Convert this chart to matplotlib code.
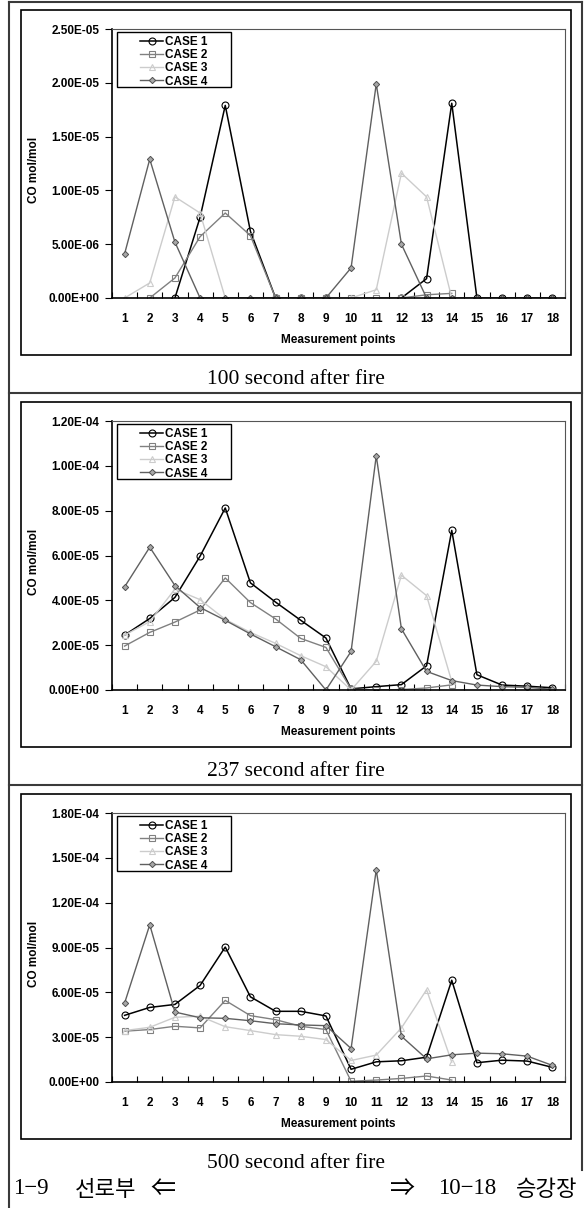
import numpy as np
import matplotlib as mpl
mpl.use('Agg')
import matplotlib.pyplot as plt
from matplotlib.lines import Line2D
from matplotlib.patches import Rectangle
from matplotlib.ticker import FuncFormatter, MultipleLocator

nan = np.nan
points = np.arange(1, 19)
cases = ['CASE 1', 'CASE 2', 'CASE 3', 'CASE 4']
captions = ['100 second after fire', '237 second after fire', '500 second after fire']

# 100 s after fire
t100_case1 = [nan, nan, 0, 7.5e-6, 1.79e-5, 6.2e-6, 0, 0, 0, nan, nan, 0, 1.8e-6, 1.81e-5, 0, 0, 0, 0]
t100_case2 = [nan, 0, 1.86e-6, 5.7e-6, 7.9e-6, 5.8e-6, 0, 0, 0, 0, 0, 0, 3.0e-7, 4.3e-7, nan, nan, nan, nan]
t100_case3 = [0, 1.4e-6, 9.4e-6, 7.9e-6, 0, 0, 0, 0, 0, 0, 7.7e-7, 1.16e-5, 9.4e-6, 0, nan, nan, nan, nan]
t100_case4 = [4.1e-6, 1.29e-5, 5.2e-6, 0, 0, 0, 0, 0, 0, 2.8e-6, 1.99e-5, 5.0e-6, 0, 0, 0, 0, 0, 0]

# 237 s after fire
t237_case1 = [2.45e-5, 3.19e-5, 4.13e-5, 5.97e-5, 8.12e-5, 4.78e-5, 3.92e-5, 3.11e-5, 2.32e-5, 5e-7,
              1.5e-6, 2.4e-6, 1.08e-5, 7.12e-5, 6.8e-6, 2.2e-6, 1.7e-6, 1.0e-6]
t237_case2 = [1.96e-5, 2.57e-5, 3.03e-5, 3.57e-5, 5.0e-5, 3.9e-5, 3.17e-5, 2.3e-5, 1.9e-5, 4e-7,
              0, 2e-7, 9e-7, 2.3e-6, nan, nan, nan, nan]
t237_case3 = [2.45e-5, 3.05e-5, 4.5e-5, 4.03e-5, 3.15e-5, 2.57e-5, 2.08e-5, 1.53e-5, 1.04e-5, 0,
              1.28e-5, 5.12e-5, 4.21e-5, 3.8e-6, nan, nan, nan, nan]
t237_case4 = [4.6e-5, 6.37e-5, 4.66e-5, 3.68e-5, 3.11e-5, 2.5e-5, 1.93e-5, 1.35e-5, 0, 1.72e-5,
              1.045e-4, 2.73e-5, 8.3e-6, 4.2e-6, 2.2e-6, 1.5e-6, 1.2e-6, 3e-7]

# 500 s after fire
t500_case1 = [4.46e-5, 4.99e-5, 5.19e-5, 6.46e-5, 9.03e-5, 5.7e-5, 4.73e-5, 4.73e-5, 4.42e-5, 8.5e-6,
              1.35e-5, 1.42e-5, 1.66e-5, 6.81e-5, 1.29e-5, 1.46e-5, 1.4e-5, 9.8e-6]
t500_case2 = [3.4e-5, 3.51e-5, 3.73e-5, 3.62e-5, 5.46e-5, 4.44e-5, 4.17e-5, 3.73e-5, 3.51e-5, 5e-7,
              1.3e-6, 2.4e-6, 4.0e-6, 1.3e-6, nan, nan, nan, nan]
t500_case3 = [3.44e-5, 3.66e-5, 4.33e-5, 4.4e-5, 3.7e-5, 3.44e-5, 3.17e-5, 3.06e-5, 2.84e-5, 1.44e-5,
              1.8e-5, 3.62e-5, 6.17e-5, 1.33e-5, nan, nan, nan, nan]
t500_case4 = [5.28e-5, 1.052e-4, 4.68e-5, 4.3e-5, 4.26e-5, 4.1e-5, 3.9e-5, 3.82e-5, 3.77e-5, 2.24e-5,
              1.42e-4, 3.06e-5, 1.55e-5, 1.82e-5, 1.93e-5, 1.89e-5, 1.73e-5, 1.11e-5]

panels = [
    ([t100_case1, t100_case2, t100_case3, t100_case4], 2.5e-5, 5e-6),
    ([t237_case1, t237_case2, t237_case3, t237_case4], 1.2e-4, 2e-5),
    ([t500_case1, t500_case2, t500_case3, t500_case4], 1.8e-4, 3e-5),
]

styles = [
    dict(color='black', marker='o', ms=5, mfc='none', mec='black', mew=0.8, lw=1.1),
    dict(color='#808080', marker='s', ms=4.5, mfc='none', mec='#808080', mew=0.8, lw=1.0),
    dict(color='#cccccc', marker='^', ms=4.5, mfc='none', mec='#cccccc', mew=0.8, lw=1.0),
    dict(color='#606060', marker='D', ms=3.2, mfc='#a8a8a8', mec='#505050', mew=0.7, lw=1.0),
]

W, H = 586, 1208
fig = plt.figure(figsize=(W / 100, H / 100), dpi=100)
sans = 'Liberation Sans'
serif = ['Liberation Serif', 'Noto Sans CJK KR', 'DejaVu Serif']
kor = ['Noto Sans CJK KR', 'DejaVu Sans']
fs = 8.5


def fx(px):
    return px / W


def fy(py):
    return 1 - py / H


period = 392
for k, (series, ymax, ystep) in enumerate(panels):
    dy = k * period
    top, zero = 29 + dy, 298 + dy
    ax = fig.add_axes([fx(112), fy(zero), fx(565) - fx(112), (zero - top) / H])
    for vals, style in zip(series, styles):
        ax.plot(points, vals, **style)
    ax.set_xlim(0.5, 18.5)
    ax.set_ylim(0, ymax)
    ax.yaxis.set_major_locator(MultipleLocator(ystep))
    ax.yaxis.set_major_formatter(FuncFormatter(lambda v, p: f'{v:.2E}'))
    ax.set_xticks(points)
    ax.set_xticks(np.arange(0.5, 18.6, 1), minor=True)
    ax.tick_params(axis='x', which='major', length=0, pad=10.5)
    ax.tick_params(axis='x', which='minor', direction='in', length=4, width=0.8)
    ax.tick_params(axis='y', which='major', direction='out', length=5, width=0.8, pad=4)
    for lab in ax.get_xticklabels() + ax.get_yticklabels():
        lab.set_fontfamily(sans)
        lab.set_fontweight('bold')
        lab.set_fontsize(fs)
    for s in ['left', 'bottom']:
        ax.spines[s].set_linewidth(1.2)
    for s in ['top', 'right']:
        ax.spines[s].set_linewidth(0.8)
        ax.spines[s].set_color('#555555')

    fig.text(fx(34), fy(170 + dy), 'CO mol/mol', rotation=90, ha='center', va='center',
             family=sans, weight='bold', fontsize=fs)
    fig.text(fx(338), fy(340 + dy), 'Measurement points', ha='center', va='center',
             family=sans, weight='bold', fontsize=fs)

    # legend box
    fig.add_artist(Rectangle((fx(117), fy(87 + dy)), fx(231) - fx(117), (87 - 32) / H,
                             transform=fig.transFigure, fill=False, ec='black', lw=1.0))
    handles = [Line2D([], [], **st) for st in styles]
    fig.legend(handles, cases, loc='upper left', bbox_to_anchor=(fx(140), fy(36 + dy)),
               frameon=False, borderpad=0, borderaxespad=0, handlelength=1.95,
               handletextpad=0.2, labelspacing=0.1,
               prop=dict(family=sans, weight='bold', size=fs))

    # chart frame
    fig.add_artist(Rectangle((fx(21), fy(355 + dy)), fx(571) - fx(21), 345 / H,
                             transform=fig.transFigure, fill=False, ec='black', lw=1.2))
    fig.text(fx(296), fy(380 + dy), captions[k], ha='center', va='center',
             family=serif, fontsize=15.5)

# table lines
tc = '#3a3a3a'
for y in [2, 393, 785]:
    fig.add_artist(Line2D([fx(9), fx(582)], [fy(y), fy(y)], transform=fig.transFigure, color=tc, lw=1.5))
fig.add_artist(Line2D([fx(9), fx(9)], [fy(2), fy(1208)], transform=fig.transFigure, color=tc, lw=1.5))
fig.add_artist(Line2D([fx(582), fx(582)], [fy(2), fy(1170)], transform=fig.transFigure, color=tc, lw=1.5))

# bottom note
yb = fy(1189)
fig.text(fx(13), yb, '1\u22129', ha='left', va='center', family=serif, fontsize=16.5)
fig.text(fx(75), yb, '선로부', ha='left', va='center', family=kor, fontsize=16, weight='light')
fig.text(fx(150), yb, '\u21d0', ha='left', va='center', family=kor, fontsize=18)
fig.text(fx(390), yb, '\u21d2', ha='left', va='center', family=kor, fontsize=18)
fig.text(fx(467), yb, '10\u221218', ha='center', va='center', family=serif, fontsize=16.5)
fig.text(fx(577), yb, '승강장', ha='right', va='center', family=kor, fontsize=16, weight='light')

fig.savefig('out.png', dpi=100)
